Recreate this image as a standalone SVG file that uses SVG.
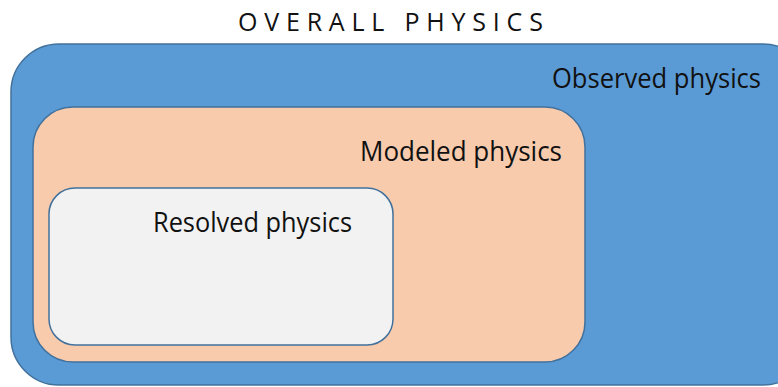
<svg xmlns="http://www.w3.org/2000/svg" width="778" height="387" viewBox="0 0 778 387">
<style>
.lbl{font-family:"Open Sans","Liberation Sans",sans-serif;font-size:27px;fill:#111}
.box{stroke:#41719C;stroke-width:1.5}
</style>
<rect width="778" height="387" fill="#fff"/>
<text x="238" y="31" font-family="'Open Sans','Liberation Sans',sans-serif" font-size="25" letter-spacing="6.8" fill="#111">OVERALL PHYSICS</text>
<g id="observed">
<rect class="box" x="11" y="44" width="800" height="341" rx="48" ry="48" fill="#5B9BD5"/>
<text class="lbl" x="552" y="88" textLength="209" lengthAdjust="spacingAndGlyphs">Observed physics</text>
</g>
<g id="modeled">
<rect class="box" x="33" y="107" width="552" height="255" rx="40" ry="40" fill="#F8CBAD"/>
<text class="lbl" x="360" y="161" textLength="202" lengthAdjust="spacingAndGlyphs">Modeled physics</text>
</g>
<g id="resolved">
<rect class="box" x="49" y="188" width="344" height="157" rx="26" ry="26" fill="#F2F2F2"/>
<text class="lbl" x="153" y="232" textLength="199" lengthAdjust="spacingAndGlyphs">Resolved physics</text>
</g>
<g id="connectors"/>
</svg>
